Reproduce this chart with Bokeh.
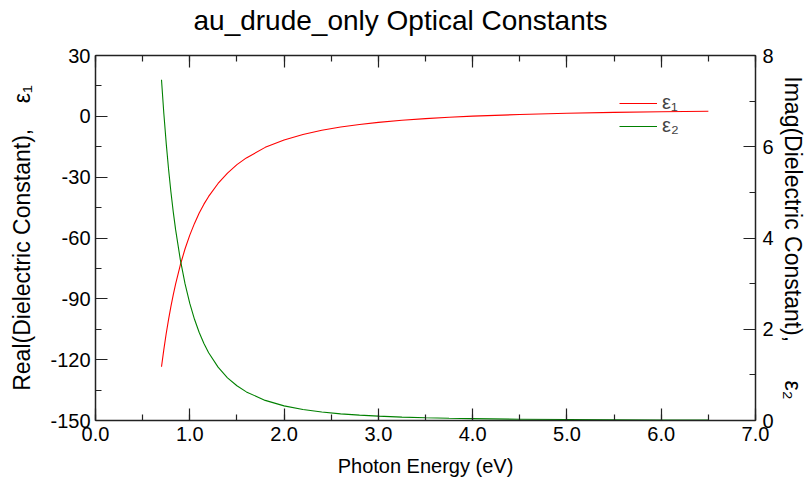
from bokeh.plotting import figure
from bokeh.models import (Range1d, LinearAxis, Legend, LegendItem, Title,
                          SingleIntervalTicker, PrintfTickFormatter, ColumnDataSource)
from bokeh.embed import file_html
from bokeh.resources import INLINE

# Photon energy (eV)
energy = [0.7, 0.725, 0.75, 0.775, 0.8, 0.825, 0.85, 0.9, 0.95, 1.0, 1.05, 1.1,
          1.15, 1.2, 1.3, 1.4, 1.5, 1.6, 1.8, 2.0, 2.2, 2.4, 2.6, 2.8, 3.0,
          3.25, 3.5, 3.75, 4.0, 4.5, 5.0, 5.5, 6.0, 6.5]
# Real part eps1
eps1 = [-123.5, -114.9, -107.1, -100.1, -93.7, -87.9, -82.6, -73.2, -65.3, -58.6,
        -52.8, -47.7, -43.3, -39.5, -33.1, -28.0, -23.8, -20.5, -15.3, -11.7,
        -8.95, -6.88, -5.27, -4.00, -2.97, -1.94, -1.12, -0.46, 0.08, 0.90,
        1.49, 1.93, 2.26, 2.52]
# Imaginary part eps2
eps2 = [7.47, 6.725, 6.075, 5.508, 5.008, 4.567, 4.177, 3.519, 2.993, 2.567,
        2.218, 1.929, 1.688, 1.486, 1.169, 0.936, 0.761, 0.627, 0.441, 0.321,
        0.241, 0.186, 0.146, 0.117, 0.0952, 0.0749, 0.0600, 0.0487, 0.0402,
        0.0282, 0.0206, 0.0155, 0.0119, 0.0094]

title_text = "au_drude_only Optical Constants"
x_label = "Photon Energy (eV)"
y_label = "Real(Dielectric Constant)," + "\u00a0" * 4 + "\u03b5\u2081"
y2_label = "Imag(Dielectric Constant)," + "\u00a0" * 6 + "\u03b5\u2082"
legend_labels = ["\u03b5\u2081", "\u03b5\u2082"]

FONT = "Liberation Sans"

src = ColumnDataSource(dict(e=energy, r=eps1, i=eps2))

p = figure(width=808, height=482, output_backend="svg", toolbar_location=None,
           x_range=Range1d(0, 7), y_range=Range1d(-150, 30),
           min_border_left=95, min_border_right=53, min_border_top=55,
           min_border_bottom=62, x_axis_location=None, y_axis_location=None,
           title_location=None)
p.extra_y_ranges = {"imag": Range1d(0, 8)}
p.xgrid.visible = False
p.ygrid.visible = False
p.outline_line_color = None
p.background_fill_color = "white"
p.border_fill_color = "white"


def style_axis(ax, show_labels=True):
    ax.axis_line_color = "#222222"
    ax.axis_line_width = 1.5
    ax.major_tick_in = 12
    ax.major_tick_out = 0
    ax.minor_tick_in = 6
    ax.minor_tick_out = 0
    ax.major_tick_line_color = "#222222"
    ax.minor_tick_line_color = "#222222"
    ax.major_tick_line_width = 1.2
    ax.minor_tick_line_width = 1.2
    ax.major_label_text_font = FONT
    ax.major_label_text_font_size = "20px"
    ax.major_label_text_color = "black" if show_labels else None
    ax.axis_label_text_font = FONT
    ax.axis_label_text_font_size = "23px"
    ax.axis_label_text_font_style = "normal"
    ax.axis_label_text_color = "black"


xb = LinearAxis(ticker=SingleIntervalTicker(interval=1, num_minor_ticks=2),
                formatter=PrintfTickFormatter(format="%.1f"), axis_label=x_label)
style_axis(xb)
xb.axis_label_text_font_size = "20px"
xb.major_label_standoff = 6
xb.axis_label_standoff = 11
p.add_layout(xb, "below")

# top frame axis (ticks only); a blank, invisible axis label pads the space
# between the frame and the title
xt = LinearAxis(ticker=SingleIntervalTicker(interval=1, num_minor_ticks=2),
                axis_label="\u00a0")
style_axis(xt, show_labels=False)
xt.major_label_text_font_size = "0px"
xt.major_label_standoff = 0
xt.axis_label_text_font_size = "15px"
xt.axis_label_standoff = 0
xt.axis_label_text_color = None
p.add_layout(xt, "above")

title = Title(text=title_text, text_font=FONT, text_font_size="28px",
              text_font_style="normal", text_color="black", align="left",
              offset=98, standoff=0)
p.add_layout(title, "above")

yl = LinearAxis(ticker=SingleIntervalTicker(interval=30, num_minor_ticks=2),
                formatter=PrintfTickFormatter(format="%d"), axis_label=y_label)
style_axis(yl)
yl.major_label_standoff = 5
yl.axis_label_standoff = 12
p.add_layout(yl, "left")

yr = LinearAxis(y_range_name="imag",
                ticker=SingleIntervalTicker(interval=2, num_minor_ticks=2),
                formatter=PrintfTickFormatter(format="%d"), axis_label=y2_label)
style_axis(yr)
yr.major_label_standoff = 7
yr.axis_label_standoff = 3
p.add_layout(yr, "right")

r1 = p.line("e", "r", source=src, line_color="#ff0000", line_width=1.1)
r2 = p.line("e", "i", source=src, line_color="#008000", line_width=1.1,
            y_range_name="imag")

legend = Legend(items=[LegendItem(label=legend_labels[0], renderers=[r1]),
                       LegendItem(label=legend_labels[1], renderers=[r2])],
                location=(524, 283), background_fill_alpha=0,
                border_line_color=None, padding=0, margin=0, spacing=0,
                glyph_width=38, glyph_height=22, label_height=22,
                label_standoff=5, label_text_font=FONT,
                label_text_font_size="20px")
p.add_layout(legend)

open("out.html", "w").write(file_html(p, INLINE))
